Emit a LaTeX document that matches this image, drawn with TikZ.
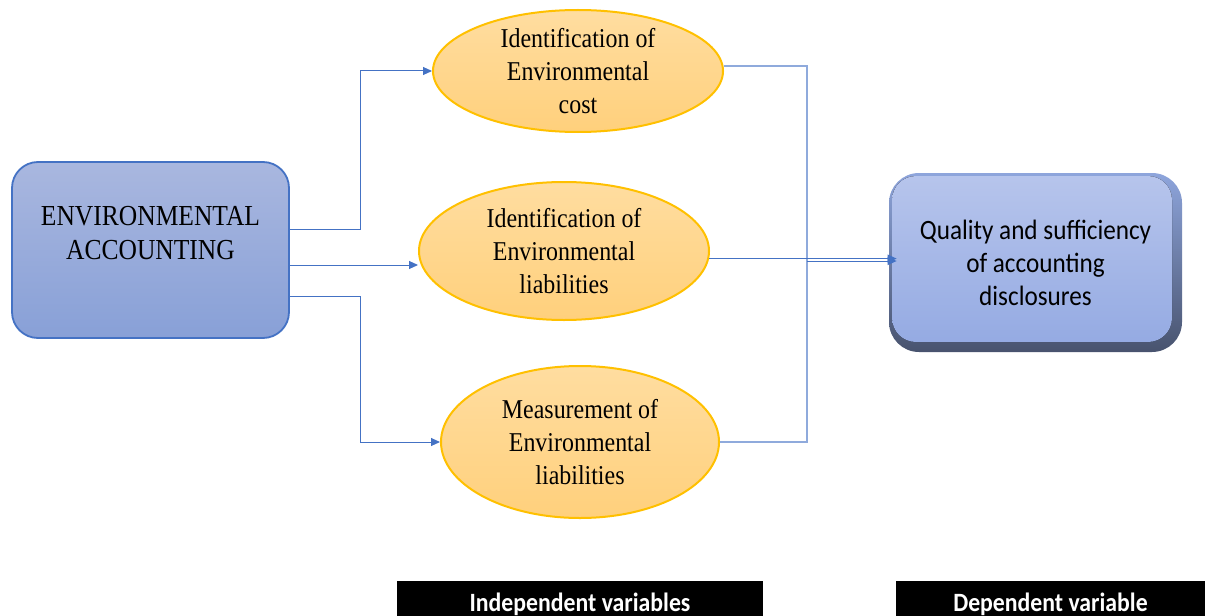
\documentclass[tikz,border=0pt]{standalone}
\usepackage{fontspec}
\setmainfont{Liberation Serif}[FakeStretch=0.88]
\newfontfamily\calibri{Carlito}[FakeStretch=0.9]
\usepackage{tikz}
\usetikzlibrary{calc}
\usetikzlibrary{arrows, arrows.meta}
\usetikzlibrary{shapes.geometric}
\definecolor{linkblue}{HTML}{4472C4}
\definecolor{buslight}{HTML}{8FAADC}
\definecolor{boxtop}{HTML}{A9B7DF}
\definecolor{boxbot}{HTML}{88A0D7}
\definecolor{ovaltop}{HTML}{FFDDA0}
\definecolor{ovalbot}{HTML}{FFD07C}
\definecolor{ovalline}{HTML}{FFC000}
\definecolor{beveltop}{HTML}{8EA5DC}
\definecolor{bevelbot}{HTML}{48536E}
\definecolor{qualtop}{HTML}{B7C5EC}
\definecolor{qualbot}{HTML}{93A9E2}

\begin{document}
\begin{tikzpicture}[x=0.5pt, y=-0.5pt,
  box/.style = {draw=linkblue, line width=0.9pt, rounded corners=13pt, top color=boxtop, bottom color=boxbot, minimum width=138.5pt, minimum height=88pt},
  oval/.style = {ellipse, draw=ovalline, line width=1pt, top color=ovaltop, bottom color=ovalbot, inner sep=0pt, align=center, font=\fontsize{13.6}{16.5}\selectfont},
  link/.style = {linkblue, line width=0.5pt, -{Triangle[length=4.5pt, width=4pt]}},
  buslink/.style = {buslight, line width=0.6pt},
  tag/.style = {fill=black, text=white, font=\calibri\bfseries\fontsize{13.2}{14}\selectfont, inner sep=0pt, text height=15pt, text depth=4.5pt}]
  \useasboundingbox (0,0) rectangle (1208,615);
  \clip (0,0) rectangle (1208,615);

  %left box
  \node [box, label={[font=\fontsize{14.5}{17}\selectfont, align=center, yshift=8.5pt]center:{ENVIRONMENTAL\\ACCOUNTING}}] (env) at (150.5,250) {};

  %ovals
  \node [oval, minimum width=145pt, minimum height=61pt] (idcost) at (578,71) {Identification of\\Environmental\\cost};
  \node [oval, minimum width=145pt, minimum height=69pt] (idliab) at (564,251) {Identification of\\Environmental\\liabilities};
  \node [oval, minimum width=139pt, minimum height=76pt] (measliab) at (580,442) {Measurement of\\Environmental\\liabilities};

  %right box
  \node [rounded corners=15pt, top color=beveltop, bottom color=bevelbot, minimum width=146.5pt, minimum height=89.5pt, align=center,
    font=\calibri\fontsize{14}{16.5}\selectfont,
    path picture={\fill [rounded corners=12pt, top color=qualtop, bottom color=qualbot]
      ([shift={(1.5pt,-1.5pt)}]path picture bounding box.north west) rectangle ([shift={(-5pt,5pt)}]path picture bounding box.south east);}]
    (quality) at (1035.5,262.5) {Quality and sufficiency\\of accounting\\disclosures};

  %linking left box to ovals
  \draw [link] (env.east) ++(0,-21) -- ++(71,0) |- (idcost.west);
  \draw [link] (env.east) ++(0,15) coordinate (mid) -- (mid -| idliab.west);
  \draw [link] (env.east) ++(0,46) -- ++(71,0) |- (measliab.west);

  %linking ovals to right box
  \coordinate (bus) at (807,261);
  \draw [buslink] (idcost.2) -| (bus) |- (measliab.east);
  \draw [link, shorten >=-4pt] (idliab.-3) -- (idliab.-3 -| quality.west);
  \draw [link, shorten >=-4pt] (bus) -- (bus -| quality.west);

  %variable tags
  \node [tag, anchor=north, minimum width=183pt] (indep) at (580,581) {Independent variables};
  \node [tag, anchor=north, minimum width=154.5pt] (dep) at (1050.5,581) {Dependent variable};
\end{tikzpicture}
\end{document}
